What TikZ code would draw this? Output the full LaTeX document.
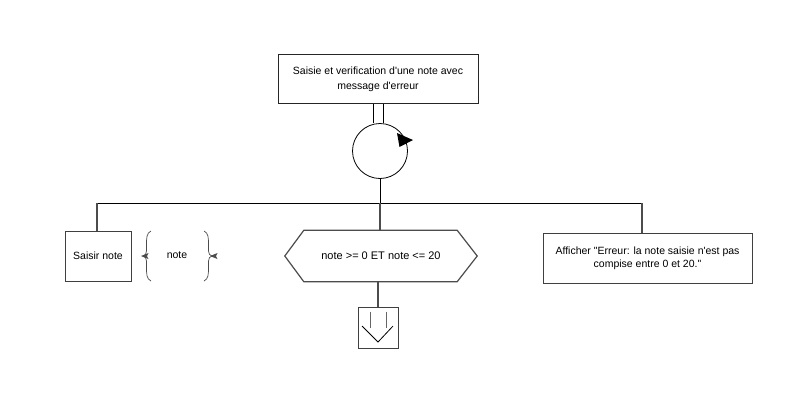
\documentclass[tikz,border=0pt]{standalone}
\usepackage{fontspec}
\setmainfont{Liberation Sans}[Ligatures=TeXOff]
\begin{document}
\begin{tikzpicture}[x=1pt,y=-1pt,
  box/.style={draw=black!75,line width=0.9pt,minimum width=#1,inner sep=0pt,align=center,font=\fontsize{10.5}{14}\selectfont},
  conn/.style={draw=black,line width=0.8pt},
  gconn/.style={draw=black!70,line width=1.2pt},
  lbl/.style={font=\fontsize{10.5}{14}\selectfont,inner sep=0pt}]
\useasboundingbox (0,0) rectangle (808,408);
\fill[white] (0,0) rectangle (808,408);
% top box
\node[box=200pt,minimum height=49pt,draw=black!85,font=\fontsize{10.5}{15}\selectfont] (top) at (378,79) {Saisie et verification d'une note avec\\message d'erreur};
% loop circle
\node[draw=black,line width=0.8pt,circle,minimum size=55pt,inner sep=0pt] (loop) at (380,151) {};
\draw[conn] ([xshift=-5pt]top.south) -- ([xshift=-5pt]top.south |- loop.north);
\draw[conn] ([xshift=5pt]top.south) -- ([xshift=5pt]top.south |- loop.north);
\fill[black] (397,133) -- (413,140) -- (399.5,147) -- cycle;
% bar
\coordinate (barL) at (97,203);
\coordinate (barR) at (642,203);
\coordinate (barM) at (380,203);
\draw[conn] (loop.south) -- (barM);
\draw[conn] (barL) -- (barR);
% left box
\node[box=66pt,minimum height=50pt] (saisir) at (98,256) {Saisir note};
\draw[gconn] (barL) -- (barL |- saisir.north);
% braces
\node[lbl] (note) at (177,255) {note};
\draw[black!70,line width=0.7pt] (151,231) .. controls (146.5,233) and (146.5,238) .. (146.5,245) -- (146.5,251) .. controls (146.5,254) and (145,255.5) .. (143,256) .. controls (145,256.5) and (146.5,258) .. (146.5,261) -- (146.5,267) .. controls (146.5,274) and (146.5,279) .. (151,281);
\draw[black!70,line width=0.7pt] (204,231) .. controls (208.5,233) and (208.5,238) .. (208.5,245) -- (208.5,251) .. controls (208.5,254) and (210,255.5) .. (212,256) .. controls (210,256.5) and (208.5,258) .. (208.5,261) -- (208.5,267) .. controls (208.5,274) and (208.5,279) .. (204,281);
\fill[black!70] (141,256) -- (148.5,253) -- (147,256) -- (148.5,259) -- cycle;
\fill[black!70] (210,256) -- (217.5,253) -- (216,256) -- (217.5,259) -- cycle;
% hexagon
\node[lbl,minimum width=192pt,minimum height=51pt,font=\fontsize{11}{14}\selectfont] (cond) at (381,256) {note >= 0 ET note <= 20};
\draw[gconn] (cond.west) -- ([xshift=19pt]cond.north west) -- ([xshift=-20pt]cond.north east) -- (cond.east) -- ([xshift=-20pt]cond.south east) -- ([xshift=19pt]cond.south west) -- cycle;
\draw[gconn] (barM) -- (cond.north -| barM);
% exit box
\node[box=40pt,minimum height=41pt] (exit) at (378,327.5) {};
\draw[gconn] (cond.south -| exit) -- (exit.north);
\draw[black!60,line width=1pt] ([xshift=-8pt,yshift=-5pt]exit.north) -- ++(0,16);
\draw[black!60,line width=1pt] ([xshift=8pt,yshift=-5pt]exit.north) -- ++(0,16);
\draw[black,line width=0.8pt] ([xshift=-16pt,yshift=-19.5pt]exit.north) -- ([yshift=-35.5pt]exit.north) -- ([xshift=15pt,yshift=-19.5pt]exit.north);
% right box
\node[box=209pt,minimum height=50pt,font=\fontsize{10.5}{13}\selectfont] (aff) at (647.5,258) {Afficher "Erreur: la note saisie n'est pas\\compise entre 0 et 20."};
\draw[gconn] (barR) -- (barR |- aff.north);
\end{tikzpicture}
\end{document}
